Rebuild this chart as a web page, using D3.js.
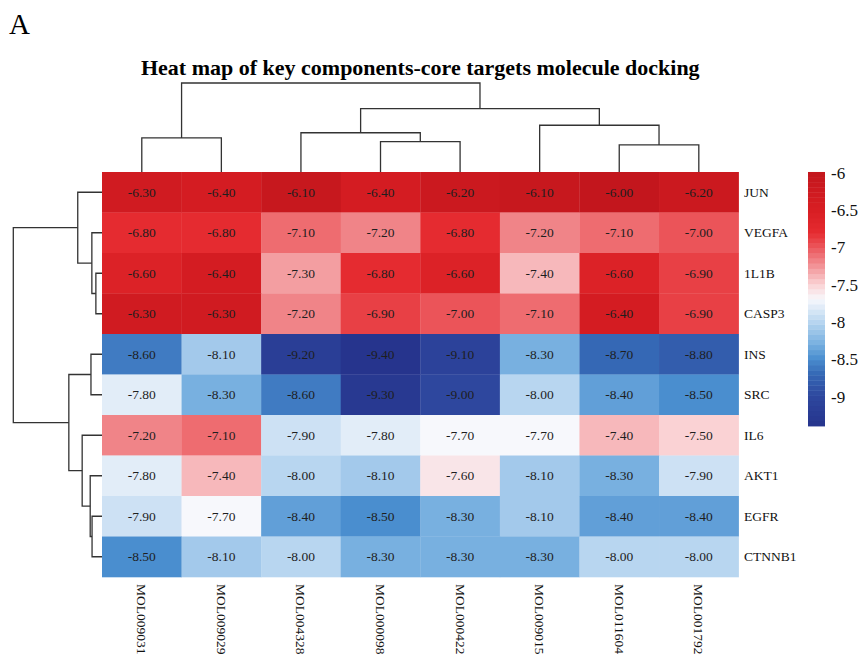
<!DOCTYPE html>
<html>
<head>
<meta charset="utf-8">
<script src="https://cdn.jsdelivr.net/npm/d3@7"></script>
<style>
  body { margin: 0; background: #fff; }
  text { font-family: "Liberation Serif", "Times New Roman", serif; }
</style>
</head>
<body>
<svg class="heatmap"></svg>
<script>
var molecules = ["MOL009031", "MOL009029", "MOL004328", "MOL000098", "MOL000422", "MOL009015", "MOL011604", "MOL001792"];
var targets = ["JUN", "VEGFA", "1L1B", "CASP3", "INS", "SRC", "IL6", "AKT1", "EGFR", "CTNNB1"];

// docking scores, one array per target, in molecule order
var jun    = [-6.30, -6.40, -6.10, -6.40, -6.20, -6.10, -6.00, -6.20];
var vegfa  = [-6.80, -6.80, -7.10, -7.20, -6.80, -7.20, -7.10, -7.00];
var il1b   = [-6.60, -6.40, -7.30, -6.80, -6.60, -7.40, -6.60, -6.90];
var casp3  = [-6.30, -6.30, -7.20, -6.90, -7.00, -7.10, -6.40, -6.90];
var ins    = [-8.60, -8.10, -9.20, -9.40, -9.10, -8.30, -8.70, -8.80];
var src    = [-7.80, -8.30, -8.60, -9.30, -9.00, -8.00, -8.40, -8.50];
var il6    = [-7.20, -7.10, -7.90, -7.80, -7.70, -7.70, -7.40, -7.50];
var akt1   = [-7.80, -7.40, -8.00, -8.10, -7.60, -8.10, -8.30, -7.90];
var egfr   = [-7.90, -7.70, -8.40, -8.50, -8.30, -8.10, -8.40, -8.40];
var ctnnb1 = [-8.50, -8.10, -8.00, -8.30, -8.30, -8.30, -8.00, -8.00];

var legendTicks = [-6, -6.5, -7, -7.5, -8, -8.5, -9];

var matrix = [jun, vegfa, il1b, casp3, ins, src, il6, akt1, egfr, ctnnb1];

var svg = d3.select(".heatmap")
    .attr("width", 861)
    .attr("height", 655);

var gridLeft = 102, gridRight = 738.6, gridTop = 172, gridBottom = 577;

var x = d3.scaleBand().domain(molecules).range([gridLeft, gridRight]);
var y = d3.scaleBand().domain(targets).range([gridTop, gridBottom]);
var xPos = d3.scaleLinear().domain([-0.5, molecules.length - 0.5]).range([gridLeft, gridRight]);
var yPos = d3.scaleLinear().domain([-0.5, targets.length - 0.5]).range([gridTop, gridBottom]);

var color = d3.scaleLinear()
    .domain([-9.4, -9.0, -8.7, -8.5, -8.3, -8.0, -7.7, -7.5, -7.2, -7.0, -6.8, -6.5, -6.0])
    .range(["#26348d", "#2e479e", "#3568b5", "#4a8ecf", "#78b0e0", "#b8d6f0", "#f7f8fc",
            "#fad2d4", "#f08488", "#eb5459", "#e52b30", "#d81e23", "#c3161d"])
    .interpolate(d3.interpolateRgb);

// ward.D2 clustering on euclidean distance
function cluster(vectors) {
  var nodes = vectors.map(function(v, i) { return {pos: i, height: 0, size: 1}; });
  var dist = [];
  for (var i = 0; i < vectors.length; i++) {
    dist[i] = [];
    for (var j = 0; j < vectors.length; j++) {
      dist[i][j] = d3.sum(vectors[i], function(v, k) { return (v - vectors[j][k]) * (v - vectors[j][k]); });
    }
  }
  var active = d3.range(vectors.length);
  while (active.length > 1) {
    var best = null;
    active.forEach(function(a, ia) {
      active.forEach(function(b, ib) {
        if (ib > ia && (best === null || dist[a][b] < best.d)) best = {a: a, b: b, d: dist[a][b]};
      });
    });
    var A = nodes[best.a], B = nodes[best.b];
    var id = nodes.length;
    nodes.push({children: [A, B], height: Math.sqrt(best.d), size: A.size + B.size, pos: (A.pos + B.pos) / 2});
    dist[id] = [];
    active = active.filter(function(k) { return k !== best.a && k !== best.b; });
    active.forEach(function(k) {
      var nk = nodes[k].size;
      var dk = ((A.size + nk) * dist[best.a][k] + (B.size + nk) * dist[best.b][k] - nk * best.d) / (A.size + B.size + nk);
      dist[id][k] = dk;
      dist[k][id] = dk;
    });
    active.push(id);
  }
  return nodes[nodes.length - 1];
}

function merges(node, out) {
  if (node.children) {
    out.push(node);
    node.children.forEach(function(c) { merges(c, out); });
  }
  return out;
}

var rowTree = cluster(matrix);
var colTree = cluster(molecules.map(function(m, j) { return matrix.map(function(row) { return row[j]; }); }));

var colH = d3.scaleLinear().domain([0, colTree.height]).range([gridTop, 83]);
var rowH = d3.scaleLinear().domain([0, rowTree.height]).range([gridLeft, 13.3]);

svg.append("g")
    .attr("class", "col-tree")
  .selectAll("path")
  .data(merges(colTree, []))
  .enter().append("path")
    .attr("fill", "none")
    .attr("stroke", "#333")
    .attr("stroke-width", 1.3)
    .attr("d", function(d) {
      var a = d.children[0], b = d.children[1];
      return "M" + xPos(a.pos) + "," + colH(a.height) + "V" + colH(d.height) +
             "H" + xPos(b.pos) + "V" + colH(b.height);
    });

svg.append("g")
    .attr("class", "row-tree")
  .selectAll("path")
  .data(merges(rowTree, []))
  .enter().append("path")
    .attr("fill", "none")
    .attr("stroke", "#333")
    .attr("stroke-width", 1.3)
    .attr("d", function(d) {
      var a = d.children[0], b = d.children[1];
      return "M" + rowH(a.height) + "," + yPos(a.pos) + "H" + rowH(d.height) +
             "V" + yPos(b.pos) + "H" + rowH(b.height);
    });

var cells = [];
matrix.forEach(function(row, i) {
  row.forEach(function(v, j) {
    cells.push({target: targets[i], molecule: molecules[j], value: v});
  });
});

var cell = svg.append("g")
    .attr("class", "cells")
  .selectAll("g")
  .data(cells)
  .enter().append("g");

cell.append("rect")
    .attr("x", function(d) { return x(d.molecule); })
    .attr("y", function(d) { return y(d.target); })
    .attr("width", x.bandwidth() + 0.3)
    .attr("height", y.bandwidth() + 0.3)
    .attr("fill", function(d) { return color(d.value); });

cell.append("text")
    .attr("x", function(d) { return x(d.molecule) + x.bandwidth() / 2; })
    .attr("y", function(d) { return y(d.target) + y.bandwidth() / 2; })
    .attr("text-anchor", "middle")
    .attr("dominant-baseline", "central")
    .attr("font-size", "13.5px")
    .attr("fill", "#1e1e1e")
    .text(function(d) { return d.value.toFixed(2); });

svg.append("g")
    .attr("class", "row-labels")
  .selectAll("text")
  .data(targets)
  .enter().append("text")
    .attr("x", 744)
    .attr("y", function(d) { return y(d) + y.bandwidth() / 2; })
    .attr("dominant-baseline", "central")
    .attr("font-size", "13.5px")
    .attr("fill", "#111")
    .text(function(d) { return d; });

svg.append("g")
    .attr("class", "col-labels")
  .selectAll("text")
  .data(molecules)
  .enter().append("text")
    .attr("transform", function(d) { return "translate(" + (x(d) + x.bandwidth() / 2) + ",584) rotate(90)"; })
    .attr("dominant-baseline", "central")
    .attr("font-size", "13.5px")
    .attr("fill", "#111")
    .text(function(d) { return d; });

// colour key
var key = d3.scaleLinear().domain([-6, -9.4]).range([172, 426]);
var steps = d3.range(50).map(function(i) { return -9.4 + 3.4 * (i + 0.5) / 50; });
var stepH = (key(-9.4) - key(-6)) / 50 + 2 / 50;

svg.append("g")
    .attr("class", "legend")
  .selectAll("rect")
  .data(steps)
  .enter().append("rect")
    .attr("x", 808)
    .attr("y", function(d) { return key(d) - stepH / 2; })
    .attr("width", 17)
    .attr("height", stepH + 0.4)
    .attr("fill", function(d) { return color(d); });

svg.append("g")
    .attr("class", "legend-labels")
  .selectAll("text")
  .data(legendTicks)
  .enter().append("text")
    .attr("x", 831)
    .attr("y", function(d) { return key(d) + 1; })
    .attr("dominant-baseline", "central")
    .attr("font-size", "17px")
    .attr("fill", "#111")
    .text(function(d) { return d; });

svg.append("text")
    .attr("x", (gridLeft + gridRight) / 2)
    .attr("y", 75)
    .attr("text-anchor", "middle")
    .attr("font-size", "22px")
    .attr("font-weight", "bold")
    .text("Heat map of key components-core targets molecule docking");

svg.append("text")
    .attr("x", 9)
    .attr("y", 34)
    .attr("font-size", "29px")
    .text("A");
</script>
</body>
</html>
